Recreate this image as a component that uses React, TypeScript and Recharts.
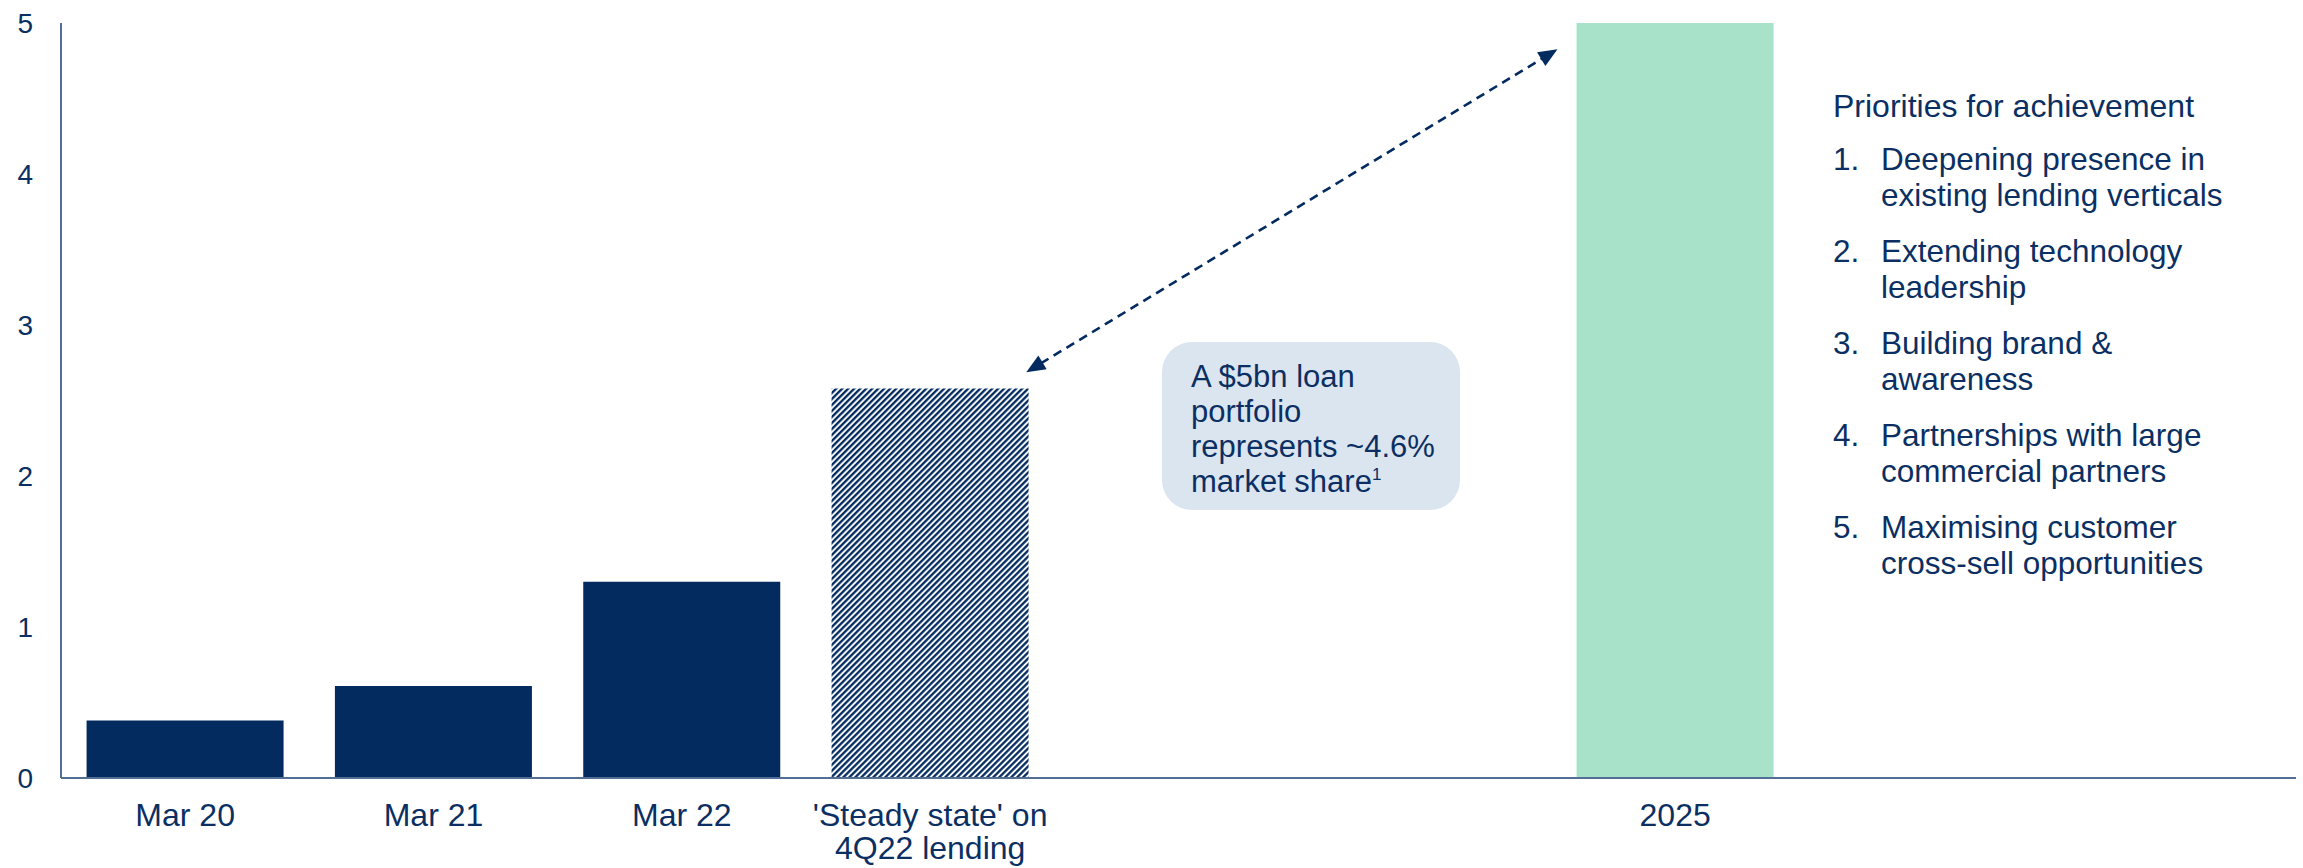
import React from "react";
import { BarChart, Bar, XAxis, YAxis, Cell, ReferenceLine, Customized } from "recharts";

const categories = ["Mar 20", "Mar 21", "Mar 22", "'Steady state' on\n4Q22 lending", " ", "  ", "2025", "   ", "    "];
const loanBookValues = [0.38, 0.61, 1.3, 2.58, null, null, 5.0, null, null];
const barKinds = ["actual", "actual", "actual", "steady", "none", "none", "target", "none", "none"];
const yTicks = [0, 1, 2, 3, 4, 5];
const arrowFrom = { category: categories[3], value: 2.3 };
const arrowTo = { category: "2025", value: 5.3 };
const calloutLines = ["A $5bn loan", "portfolio", "represents ~4.6%", "market share"];
const calloutFootnote = "1";
const prioritiesTitle = "Priorities for achievement";
const priorities = [
  ["Deepening presence in", "existing lending verticals"],
  ["Extending technology", "leadership"],
  ["Building brand &", "awareness"],
  ["Partnerships with large", "commercial partners"],
  ["Maximising customer", "cross-sell opportunities"],
];

const data = categories.map((c, i) => ({ category: c, value: loanBookValues[i], kind: barKinds[i] }));

const NAVY = "#032b60";
const GREEN = "#a8e2c9";
const BOX = "#dbe5f0";
const AXIS = "#536f95";
const TEXT = "#0b2f62";
const FONT = "'Liberation Sans', Arial, sans-serif";

const fillFor = (kind: string) =>
  kind === "actual" ? NAVY : kind === "steady" ? "url(#hatchSteady)" : kind === "target" ? GREEN : "none";

const XTick = (props: any) => {
  const { x, y, payload } = props;
  const lines = String(payload.value).trim().split("\n");
  return (
    <text x={x} y={y} textAnchor="middle" fill={TEXT} fontSize={32} fontFamily={FONT}>
      {lines.map((l, i) => (
        <tspan key={i} x={x} dy={i === 0 ? "0.71em" : "1.05em"}>
          {l}
        </tspan>
      ))}
    </text>
  );
};

const ArrowShape = (props: any) => {
  const { x1, y1, x2, y2 } = props;
  if ([x1, y1, x2, y2].some((v) => typeof v !== "number" || isNaN(v))) return null;
  const dx = x2 - x1;
  const dy = y2 - y1;
  const sx = x1 + dx * 0.129;
  const sy = y1 + dy * 0.129;
  const ex = x2 - dx * 0.158;
  const ey = y2 - dy * 0.158;
  const len = Math.hypot(ex - sx, ey - sy);
  const ux = (ex - sx) / len;
  const uy = (ey - sy) / len;
  const px = -uy;
  const py = ux;
  const head = 19;
  const hw = 8;
  const head1 = `${sx},${sy} ${sx + ux * head + px * hw},${sy + uy * head + py * hw} ${sx + ux * head - px * hw},${sy + uy * head - py * hw}`;
  const head2 = `${ex},${ey} ${ex - ux * head + px * hw},${ey - uy * head + py * hw} ${ex - ux * head - px * hw},${ey - uy * head - py * hw}`;
  return (
    <g>
      <line
        x1={sx + ux * (head - 2)}
        y1={sy + uy * (head - 2)}
        x2={ex - ux * (head - 2)}
        y2={ey - uy * (head - 2)}
        stroke={NAVY}
        strokeWidth={2.6}
        strokeDasharray="9 6"
      />
      <polygon points={head1} fill={NAVY} />
      <polygon points={head2} fill={NAVY} />
    </g>
  );
};

const Annotations = () => (
  <g fontFamily={FONT} fill={TEXT}>
    <rect x={1162} y={342} width={298} height={168} rx={30} ry={30} fill={BOX} />
    {calloutLines.map((l, i) => (
      <text key={i} x={1191} y={387 + i * 35} fontSize={31} fill={TEXT}>
        {l}
        {i === calloutLines.length - 1 ? (
          <tspan fontSize={17} dy={-12}>
            {calloutFootnote}
          </tspan>
        ) : null}
      </text>
    ))}
    <text x={1833} y={117} fontSize={32} fill={TEXT}>
      {prioritiesTitle}
    </text>
    {priorities.map((item, i) => (
      <g key={i}>
        <text x={1833} y={170 + i * 92} fontSize={31.5} fill={TEXT}>
          {`${i + 1}.`}
        </text>
        {item.map((l, j) => (
          <text key={j} x={1881} y={170 + i * 92 + j * 36} fontSize={31.5} fill={TEXT}>
            {l}
          </text>
        ))}
      </g>
    ))}
  </g>
);

export default function App() {
  return (
    <div style={{ position: "absolute", left: 0, top: 0, width: 2303, height: 868, background: "#fff" }}>
      <svg width={0} height={0} style={{ position: "absolute" }}>
        <defs>
          <pattern id="hatchSteady" patternUnits="userSpaceOnUse" width={4.24} height={4.24} patternTransform="rotate(45)">
            <rect x={0} y={0} width={4.24} height={4.24} fill="#ffffff" />
            <rect x={0} y={0} width={2.3} height={4.24} fill={NAVY} />
          </pattern>
        </defs>
      </svg>
      <BarChart
        width={2303}
        height={868}
        data={data}
        margin={{ top: 23, right: 7, left: 0, bottom: 0 }}
        barCategoryGap="10.3%"
      >
        <XAxis
          dataKey="category"
          type="category"
          interval={0}
          height={90}
          tickLine={false}
          tickSize={0}
          tickMargin={25}
          axisLine={{ stroke: AXIS, strokeWidth: 2 }}
          tick={<XTick />}
        />
        <YAxis
          type="number"
          domain={[0, 5]}
          ticks={yTicks}
          width={61}
          tickLine={false}
          tickSize={0}
          tickMargin={28}
          axisLine={{ stroke: AXIS, strokeWidth: 2 }}
          tick={{ fontSize: 28, fill: TEXT, fontFamily: FONT }}
        />
        <Bar dataKey="value" isAnimationActive={false}>
          {data.map((d, i) => (
            <Cell key={i} fill={fillFor(d.kind)} />
          ))}
        </Bar>
        <ReferenceLine
          segment={[
            { x: arrowFrom.category, y: arrowFrom.value },
            { x: arrowTo.category, y: arrowTo.value },
          ]}
          ifOverflow="visible"
          shape={(p: any) => <ArrowShape {...p} />}
        />
        <Customized component={<Annotations />} />
      </BarChart>
    </div>
  );
}
